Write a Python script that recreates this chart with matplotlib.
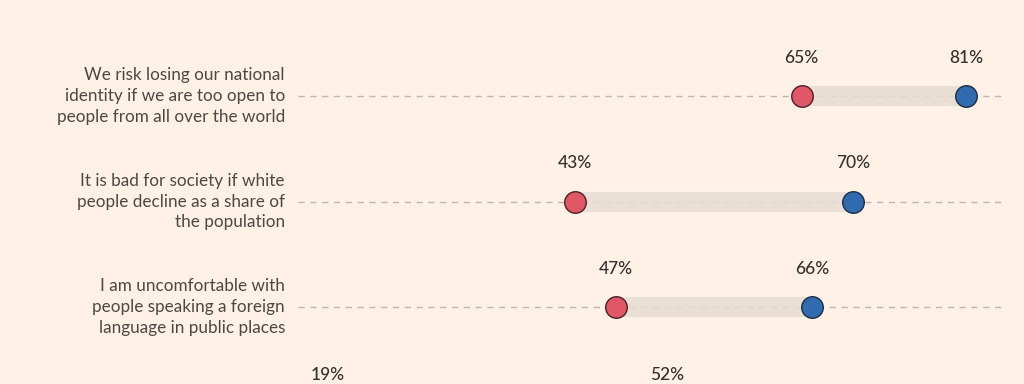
import matplotlib.pyplot as plt

# data
statements = [
    "We risk losing our national\nidentity if we are too open to\npeople from all over the world",
    "It is bad for society if white\npeople decline as a share of\nthe population",
    "I am uncomfortable with\npeople speaking a foreign\nlanguage in public places",
    "Society is made weaker by having\npeople from many different\nbackgrounds",
]
red_vals = [65, 43, 47, 19]
blue_vals = [81, 70, 66, 52]

BG = "#FFF1E5"
RED = "#E05766"
BLUE = "#306BB0"
BAND = "#E6DCD1"
DASH = "#BFB7AF"

plt.rcParams["font.family"] = ["Lato", "DejaVu Sans"]

fig = plt.figure(figsize=(10.24, 3.84), dpi=100, facecolor=BG)
ax = fig.add_axes([0, 0, 1, 1])
ax.set_facecolor(BG)

# x: percent, y: pixel rows (inverted)
px_per_pct = 10.3
zero_px = 132
ax.set_xlim(-zero_px / px_per_pct, (1024 - zero_px) / px_per_pct)
ax.set_ylim(384, 0)
ax.axis("off")

row_y = [96 + i * 105.5 for i in range(len(statements))]
line_start = (298 - zero_px) / px_per_pct
line_end = (1003 - zero_px) / px_per_pct

for y, text, r, b in zip(row_y, statements, red_vals, blue_vals):
    ax.plot([line_start, line_end], [y, y], color=DASH, lw=1.0,
            dashes=(4.5, 4), zorder=1)
    ax.plot([r, b], [y, y], color=BAND, lw=14.5, solid_capstyle="butt",
            alpha=0.85, zorder=2)
    ax.plot(r, y, "o", ms=15.5, mfc=RED, mec="#4a2026", mew=1.0, zorder=3)
    ax.plot(b, y, "o", ms=15.5, mfc=BLUE, mec="#1d2c44", mew=1.0, zorder=3)
    ax.text(r, y - 38, f"{r}%", ha="center", va="center", fontsize=12.5,
            color="#33302E", fontweight="medium")
    ax.text(b, y - 38, f"{b}%", ha="center", va="center", fontsize=12.5,
            color="#33302E", fontweight="medium")
    ax.text(line_start - 13 / px_per_pct, y, text, ha="right", va="center",
            fontsize=12.3, color="#4D4845", linespacing=1.35)

fig.savefig("out.png", dpi=100, facecolor=BG)
